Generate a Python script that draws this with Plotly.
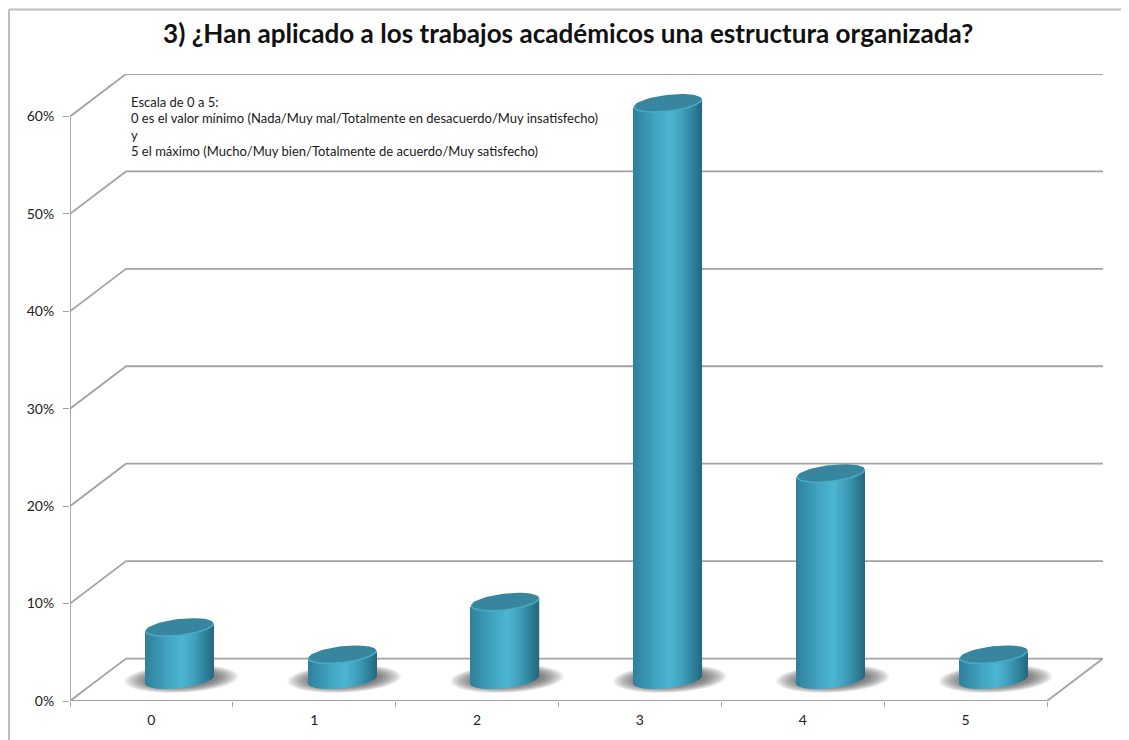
import numpy as np
import plotly.graph_objects as go

categories = [0, 1, 2, 3, 4, 5]
values = [5.4, 2.6, 8.0, 59.2, 21.2, 2.6]
y_ticks = [0, 10, 20, 30, 40, 50, 60]
title_text = "3) ¿Han aplicado a los trabajos académicos una estructura organizada?"
note_lines = [
    "Escala de 0 a 5:",
    "0 es el valor mínimo (Nada/Muy mal/Totalmente en desacuerdo/Muy insatisfecho)",
    "y",
    "5 el máximo (Mucho/Muy bien/Totalmente de acuerdo/Muy satisfecho)",
]

W, H = 1129, 740
BODY = 8                        # page margin around the figure
L, R, T, B = 70, 1103, 73.5, 701
PX_X = (1047 - 70) / 6          # px per category
PX_Y = 9.75                     # px per percent
DX = 56 / PX_X                  # depth of the floor in x units
DY = 42.5 / PX_Y                # depth of the floor in y units
XMIN, XMAX = -0.5, 5.5 + DX
YMAX = 60 + DY

GRID = "#a3a3a3"
FS = "Lato, Carlito, Calibri, sans-serif"

A = 34 / PX_X
E_B = 8.2 / PX_Y
SHEAR = 0.11 * PX_X / PX_Y


def px(x):
    return (x - L) / (R - L)


def py(y):
    return (B - y) / (B - T)


def arc(u, sign):
    """offset of the ellipse edge at u in [-1, 1]; sign -1 = front edge"""
    return SHEAR * A * u + sign * E_B * np.sqrt(np.clip(1 - u * u, 0, 1))


def shade(t):
    stops = [(0.0, (48, 128, 156)), (0.12, (52, 140, 168)), (0.35, (66, 166, 194)),
             (0.55, (76, 182, 210)), (0.72, (64, 160, 188)), (0.9, (46, 126, 152)),
             (1.0, (40, 104, 128))]
    for (a, ca), (b, cb) in zip(stops, stops[1:]):
        if t <= b:
            f = (t - a) / (b - a)
            c = [round(ca[k] + (cb[k] - ca[k]) * f) for k in range(3)]
            return "rgb(%d,%d,%d)" % tuple(c)
    return "rgb(40,104,128)"


fig = go.Figure()
shapes = []


def seg(pts, color=GRID, width=1.8):
    path = "M" + " L".join(f"{x:.5f},{y:.5f}" for x, y in pts)
    shapes.append(dict(type="path", path=path, xref="x", yref="y", layer="below",
                       line=dict(color=color, width=width)))


seg([(XMIN, 0), (XMIN, y_ticks[-1])])
for v in y_ticks:
    seg([(XMIN, v), (XMIN + DX, v + DY), (XMAX, v + DY)])
seg([(XMIN, 0), (5.5, 0), (XMAX, DY)])

cx = np.array(categories, dtype=float) + DX / 2
base_y = DY / 2
th = np.linspace(0, 2 * np.pi, 60)
for c in cx:
    for k in range(18):
        g = 1 - k / 18
        ax = (57 * g + 34 * (1 - g)) / PX_X
        ay = (14 * g + 8 * (1 - g)) / PX_Y
        xs = c + 2 / PX_X + ax * np.cos(th)
        ys = base_y + 0.1 + ay * np.sin(th) + SHEAR * 0.4 * ax * np.cos(th)
        path = "M" + " L".join(f"{x:.5f},{y:.5f}" for x, y in zip(xs, ys)) + " Z"
        shapes.append(dict(type="path", path=path, xref="x", yref="y", layer="below",
                           fillcolor="rgba(70,70,70,0.055)", line=dict(width=0)))

N = 68
edges = np.linspace(-1, 1, N + 1)
mids = (edges[:-1] + edges[1:]) / 2
vals = np.array(values, dtype=float)
for j, u in enumerate(mids):
    fig.add_trace(go.Bar(
        x=cx + u * A,
        y=vals,
        base=[base_y + arc(u, -1)] * len(vals),
        width=2.6 * A / N,
        marker=dict(color=shade((u + 1) / 2), line=dict(width=0)),
        hoverinfo="skip", showlegend=False,
    ))

# top faces with a lighter front rim
u_front = np.linspace(-1, 1, 50)
for c, v in zip(cx, vals):
    xs = c + A * np.cos(th)
    ys = base_y + v + SHEAR * A * np.cos(th) + E_B * np.sin(th)
    fig.add_trace(go.Scatter(x=xs, y=ys, mode="lines", fill="toself",
                             fillcolor="#38859f", line=dict(width=0),
                             hoverinfo="skip", showlegend=False))
    fig.add_trace(go.Scatter(x=c + A * u_front, y=base_y + v + arc(u_front, -1), mode="lines",
                             line=dict(color="#4aa9c4", width=1.6),
                             hoverinfo="skip", showlegend=False))

ann = []
for k, line in enumerate(note_lines):
    ann.append(dict(text=line, xref="paper", yref="paper", x=px(129),
                    y=py(101.5 + 16.3 * k), xanchor="left", yanchor="middle", showarrow=False,
                    font=dict(family=FS, size=13, color="#1a1a1a")))
ann.append(dict(text=f"<b>{title_text}</b>", xref="paper", yref="paper",
                x=px(568), y=py(32.5), xanchor="center", yanchor="middle", showarrow=False,
                font=dict(family=FS, size=26.1, color="#111111")))

# outer frame: only the left and top edges show
shapes.append(dict(type="line", xref="paper", yref="paper", layer="below",
                   x0=px(9), x1=px(9), y0=py(745), y1=py(9),
                   line=dict(color="#c0c0c0", width=2)))
shapes.append(dict(type="line", xref="paper", yref="paper", layer="below",
                   x0=px(9), x1=px(1135), y0=py(9), y1=py(9),
                   line=dict(color="#c0c0c0", width=2)))

fw, fh = W - BODY, H - BODY
fig.update_layout(
    width=fw, height=fh, autosize=False,
    margin=dict(l=L - BODY, r=fw - (R - BODY), t=T - BODY, b=fh - (B - BODY), pad=0),
    paper_bgcolor="white", plot_bgcolor="white",
    barmode="overlay", showlegend=False,
    font=dict(family=FS, size=14, color="#222222"),
    shapes=shapes, annotations=ann,
    xaxis=dict(range=[XMIN, XMAX], tickvals=categories, ticktext=[str(c) for c in categories],
               showgrid=False, zeroline=False, showline=False, ticks="", ticklabelstandoff=9,
               automargin=False,
               tickfont=dict(family=FS, size=14, color="#222222"),
               minor=dict(tickvals=[c - 0.5 for c in categories] + [5.5], ticks="outside",
                          ticklen=5, tickcolor=GRID, tickwidth=1.4, showgrid=False)),
    yaxis=dict(range=[0, YMAX], tickvals=y_ticks, ticktext=[f"{v}%" for v in y_ticks],
               showgrid=False, zeroline=False, showline=False, ticks="outside", ticklen=6,
               tickcolor=GRID, tickwidth=1.4, ticklabelstandoff=6, automargin=False,
               tickfont=dict(family=FS, size=14, color="#222222")),
)
fig.write_html("out.html")
